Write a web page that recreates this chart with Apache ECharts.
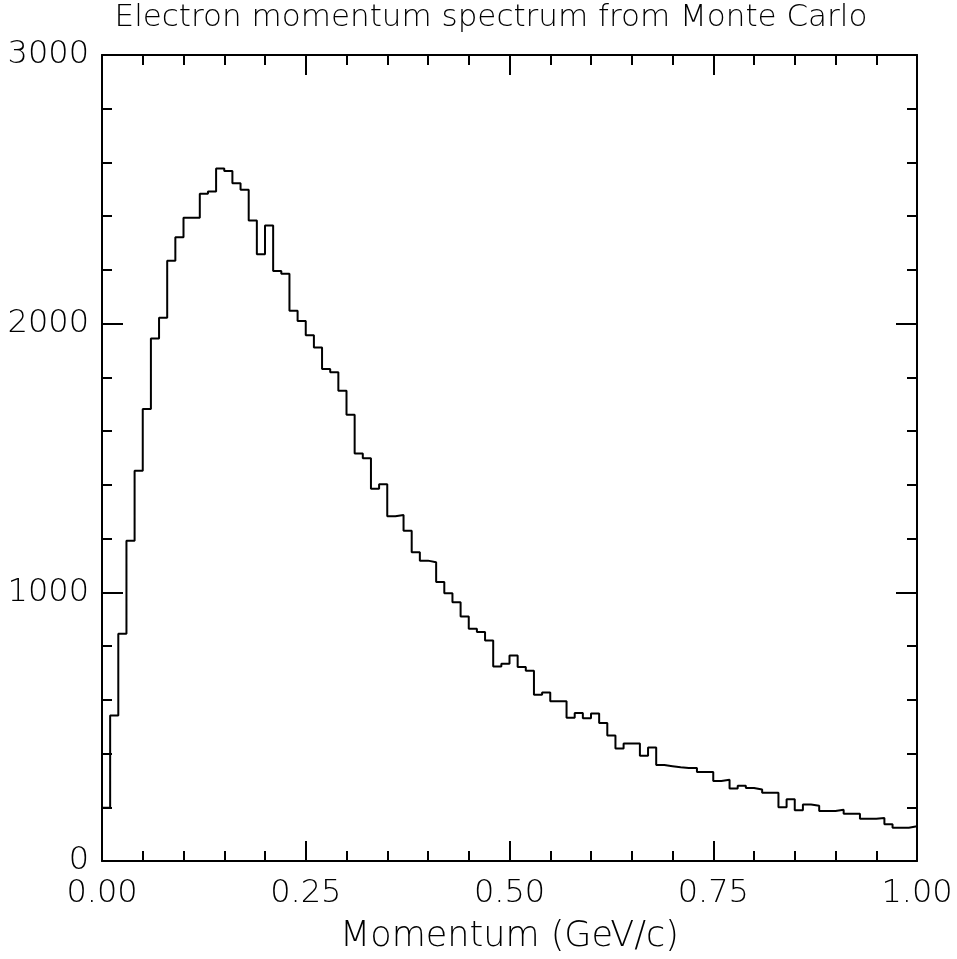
<!DOCTYPE html>
<html>
<head>
<meta charset="utf-8">
<script src="https://cdn.jsdelivr.net/npm/echarts@6/dist/echarts.min.js"></script>
<style>
html,body{margin:0;padding:0;background:#fff;}
#chart{width:957px;height:959px;}
</style>
</head>
<body>
<div id="chart"></div>
<script>
// Histogram: 100 bins of width 0.01 GeV/c from 0 to 1
var binStart = 0.0;
var binWidth = 0.01;
var counts = [
  198, 542, 846, 1192, 1453, 1682, 1945, 2022, 2234, 2322,
  2394, 2394, 2484, 2492, 2578, 2568, 2523, 2498, 2384, 2258,
  2365, 2196, 2186, 2048, 2010, 1957, 1911, 1831, 1819, 1750,
  1661, 1517, 1499, 1386, 1402, 1283, 1288, 1229, 1149, 1118,
  1112, 1038, 997, 963, 910, 864, 852, 821, 724, 734,
  765, 722, 708, 619, 627, 595, 595, 533, 551, 531,
  549, 514, 467, 419, 437, 437, 392, 422, 357, 353,
  349, 346, 346, 331, 331, 298, 302, 270, 280, 272,
  266, 254, 254, 200, 230, 189, 210, 206, 186, 186,
  191, 176, 176, 157, 157, 160, 137, 124, 124, 129
];
var xTickLabels = ['0.00', '0.25', '0.50', '0.75', '1.00'];
var yTickLabels = ['0', '1000', '2000', '3000'];
var titleText = 'Electron momentum spectrum from Monte Carlo';
var xAxisName = 'Momentum (GeV/c)';

var stepData = [];
for (var i = 0; i < counts.length; i++) {
  stepData.push([+(binStart + i * binWidth).toFixed(4), counts[i]]);
}
stepData.push([+(binStart + counts.length * binWidth).toFixed(4), counts[counts.length - 1]]);

var FONT = 'DejaVu Sans';
var chart = echarts.init(document.getElementById('chart'), null, {renderer: 'canvas'});

function xLabel(v) {
  var idx = Math.round(v / 0.25);
  return xTickLabels[idx] !== undefined ? xTickLabels[idx] : '';
}
function yLabel(v) {
  var idx = Math.round(v / 1000);
  return yTickLabels[idx] !== undefined ? yTickLabels[idx] : '';
}

var axisLineStyle = {color: '#000', width: 2};
var commonX = {
  type: 'value', min: 0, max: 1, interval: 0.25,
  axisLine: {show: true, onZero: false, lineStyle: axisLineStyle},
  axisTick: {show: true, inside: true, length: 20, lineStyle: {color: '#000', width: 2}},
  minorTick: {show: true, splitNumber: 5, length: 10, lineStyle: {color: '#000', width: 2}},
  splitLine: {show: false}, minorSplitLine: {show: false}
};
var commonY = {
  type: 'value', min: 0, max: 3000, interval: 1000,
  axisLine: {show: true, onZero: false, lineStyle: axisLineStyle},
  axisTick: {show: true, inside: true, length: 21, lineStyle: {color: '#000', width: 2}},
  minorTick: {show: true, splitNumber: 5, length: 10, lineStyle: {color: '#000', width: 2}},
  splitLine: {show: false}, minorSplitLine: {show: false}
};

var option = {
  backgroundColor: '#fff',
  animation: false,
  grid: {left: 102, right: 40, top: 55, bottom: 97, containLabel: false},
  graphic: [{
    type: 'text', x: 491, y: 2,
    style: {text: titleText, fontFamily: FONT, fontSize: 31, fontWeight: 200, fill: '#000', textAlign: 'center', textVerticalAlign: 'top'}
  }],
  xAxis: [
    Object.assign({}, commonX, {
      position: 'bottom',
      name: xAxisName, nameLocation: 'middle', nameGap: 58,
      nameTextStyle: {fontFamily: FONT, fontSize: 35, fontWeight: 200, color: '#000'},
      axisLabel: {show: true, margin: 17, formatter: xLabel, fontFamily: FONT, fontSize: 32, fontWeight: 200, color: '#000'}
    }),
    Object.assign({}, commonX, {position: 'top', axisLabel: {show: false}})
  ],
  yAxis: [
    Object.assign({}, commonY, {
      position: 'left',
      axisLabel: {show: true, margin: 13, formatter: yLabel, fontFamily: FONT, fontSize: 32, fontWeight: 200, color: '#000'}
    }),
    Object.assign({}, commonY, {position: 'right', axisLabel: {show: false}})
  ],
  series: [{
    type: 'line',
    xAxisIndex: 0, yAxisIndex: 0,
    step: 'end',
    data: stepData,
    showSymbol: false,
    symbol: 'none',
    lineStyle: {color: '#000', width: 2},
    clip: true
  }]
};
chart.setOption(option);
</script>
</body>
</html>
